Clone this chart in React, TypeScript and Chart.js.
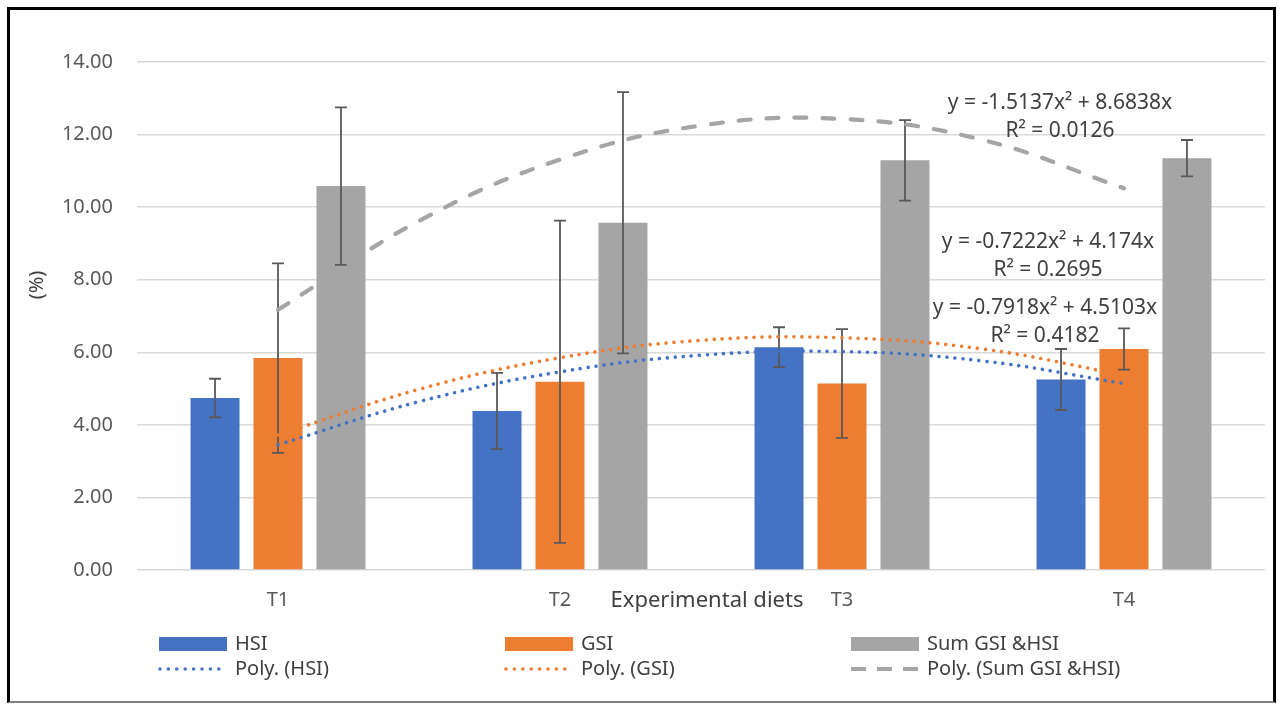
import React, { useEffect, useRef } from "react";
import { Chart, registerables } from "chart.js";

Chart.register(...registerables);

// ---------- data ----------
const categories = ["T1", "T2", "T3", "T4"];
const seriesNames = ["HSI", "GSI", "Sum GSI &HSI"];
const trendNames = ["Poly. (HSI)", "Poly. (GSI)", "Poly. (Sum GSI &HSI)"];

const hsiValues = [4.74, 4.38, 6.14, 5.25];
const gsiValues = [5.84, 5.19, 5.14, 6.09];
const sumValues = [10.58, 9.57, 11.29, 11.35];

const hsiErrors = [0.53, 1.05, 0.55, 0.84];
const gsiErrors = [2.61, 4.44, 1.5, 0.57];
const sumErrors = [2.17, 3.6, 1.11, 0.5];

// trendline points (x = category number 1..4)
const trendX = [1, 1.5, 2, 2.5, 3, 3.5, 4];
const hsiTrend = [3.45, 4.64, 5.46, 5.92, 6.02, 5.76, 5.14];
const gsiTrend = [3.72, 4.98, 5.85, 6.33, 6.4, 6.09, 5.37];
const sumTrend = [7.17, 9.62, 11.31, 12.25, 12.43, 11.85, 10.52];

const hsiEquation = ["y = -0.7222x² + 4.174x", "R² = 0.2695"];
const gsiEquation = ["y = -0.7918x² + 4.5103x", "R² = 0.4182"];
const sumEquation = ["y = -1.5137x² + 8.6838x", "R² = 0.0126"];

const yMin = 0;
const yMax = 14;
const yStep = 2;
const xAxisTitle = "Experimental diets";
const yAxisTitle = "(%)";

// ---------- styles ----------
const FONT = "'Noto Sans', sans-serif";
const colors = ["#4472C4", "#ED7D31", "#A5A5A5"];
const textDark = "#404040";
const tickColor = "#595959";
const errColor = "#595959";

const W = 1278;
const H = 704;
const PAD = { left: 137, right: 13, top: 62, bottom: 134 };

function toPoints(xs: number[], ys: number[]) {
  return xs.map((x, i) => ({ x, y: ys[i] }));
}

const errorBarPlugin = {
  id: "errorBars",
  afterDatasetsDraw(chart: any) {
    const ctx = chart.ctx;
    const yScale = chart.scales.y;
    const errs = [hsiErrors, gsiErrors, sumErrors];
    const vals = [hsiValues, gsiValues, sumValues];
    ctx.save();
    ctx.strokeStyle = errColor;
    ctx.lineWidth = 1.8;
    for (let d = 0; d < 3; d++) {
      const meta = chart.getDatasetMeta(d);
      meta.data.forEach((el: any, j: number) => {
        const x = el.x;
        const top = yScale.getPixelForValue(vals[d][j] + errs[d][j]);
        const bot = yScale.getPixelForValue(vals[d][j] - errs[d][j]);
        ctx.beginPath();
        ctx.moveTo(x, top);
        ctx.lineTo(x, bot);
        ctx.moveTo(x - 6, top);
        ctx.lineTo(x + 6, top);
        ctx.moveTo(x - 6, bot);
        ctx.lineTo(x + 6, bot);
        ctx.stroke();
      });
    }
    ctx.restore();
  },
};

const annotationPlugin = {
  id: "annotations",
  afterDraw(chart: any) {
    const ctx = chart.ctx;
    ctx.save();
    ctx.fillStyle = textDark;
    ctx.textAlign = "center";
    ctx.textBaseline = "middle";

    // equations
    ctx.font = `21px ${FONT}`;
    const eqs: [string[], number, number][] = [
      [sumEquation, 1060, 103],
      [hsiEquation, 1048, 242],
      [gsiEquation, 1045, 308],
    ];
    eqs.forEach(([lines, x, y]) => {
      ctx.fillText(lines[0], x, y);
      ctx.fillText(lines[1], x, y + 28);
    });

    // axis titles
    ctx.font = `22px ${FONT}`;
    ctx.fillText(xAxisTitle, 707, 601);
    ctx.font = `20px ${FONT}`;
    ctx.save();
    ctx.translate(37, 285);
    ctx.rotate(-Math.PI / 2);
    ctx.fillText(yAxisTitle, 0, 0);
    ctx.restore();

    // legend
    const colX = [159, 505, 851];
    const row1 = 644;
    const row2 = 669;
    ctx.textAlign = "left";
    ctx.font = `20px ${FONT}`;
    for (let i = 0; i < 3; i++) {
      ctx.fillStyle = colors[i];
      ctx.fillRect(colX[i], row1 - 7, 68, 14);
      ctx.fillStyle = textDark;
      ctx.fillText(seriesNames[i], colX[i] + 76, row1);

      ctx.save();
      ctx.strokeStyle = colors[i];
      if (i < 2) {
        ctx.lineWidth = 3.6;
        ctx.lineCap = "round";
        ctx.setLineDash([0.001, 8.4]);
        ctx.beginPath();
        ctx.moveTo(colX[i] + 1, row2);
        ctx.lineTo(colX[i] + 68, row2);
        ctx.stroke();
      } else {
        ctx.lineWidth = 4;
        ctx.lineCap = "butt";
        ctx.setLineDash([15, 11]);
        ctx.beginPath();
        ctx.moveTo(colX[i], row2);
        ctx.lineTo(colX[i] + 68, row2);
        ctx.stroke();
      }
      ctx.restore();
      ctx.fillStyle = textDark;
      ctx.fillText(trendNames[i], colX[i] + 76, row2);
    }
    ctx.restore();
  },
};

function trendDataset(label: string, ys: number[], color: string, dashed: boolean) {
  return {
    type: "line",
    label,
    data: toPoints(trendX, ys),
    borderColor: color,
    borderWidth: dashed ? 4.2 : 3.6,
    borderDash: dashed ? [12, 16] : [0.001, 8],
    borderCapStyle: "round",
    pointRadius: 0,
    fill: false,
    tension: 0.4,
  };
}

export default function App() {
  const barRef = useRef<HTMLCanvasElement | null>(null);
  const lineRef = useRef<HTMLCanvasElement | null>(null);

  useEffect(() => {
    if (!barRef.current || !lineRef.current) return;
    const barChart = new Chart(barRef.current, {
      type: "bar",
      data: {
        labels: categories,
        datasets: [
          { label: seriesNames[0], data: hsiValues, backgroundColor: colors[0] },
          { label: seriesNames[1], data: gsiValues, backgroundColor: colors[1] },
          { label: seriesNames[2], data: sumValues, backgroundColor: colors[2] },
        ],
      },
      options: {
        responsive: false,
        animation: false,
        devicePixelRatio: 1,
        layout: { padding: { top: PAD.top, right: PAD.right, left: 0, bottom: 0 } },
        datasets: { bar: { categoryPercentage: 0.67, barPercentage: 0.778 } },
        plugins: {
          legend: { display: false },
          tooltip: { enabled: false },
          title: { display: false },
        },
        scales: {
          x: {
            type: "category",
            offset: true,
            grid: { display: false, drawTicks: false },
            border: { display: false },
            ticks: {
              color: tickColor,
              font: { family: FONT, size: 20 },
              padding: 18,
              maxRotation: 0,
            },
            afterFit(scale: any) {
              scale.height = PAD.bottom;
            },
          },
          y: {
            type: "linear",
            min: yMin,
            max: yMax,
            ticks: {
              stepSize: yStep,
              color: tickColor,
              font: { family: FONT, size: 20 },
              padding: 24,
              callback: (v: any) => Number(v).toFixed(2),
            },
            grid: { color: "#D9D9D9", lineWidth: 1.5, drawTicks: false },
            border: { display: false },
            afterFit(scale: any) {
              scale.width = PAD.left;
            },
          },
        },
      } as any,
      plugins: [errorBarPlugin, annotationPlugin],
    });

    const lineChart = new Chart(lineRef.current, {
      type: "line",
      data: {
        datasets: [
          trendDataset(trendNames[0], hsiTrend, colors[0], false),
          trendDataset(trendNames[1], gsiTrend, colors[1], false),
          trendDataset(trendNames[2], sumTrend, colors[2], true),
        ] as any,
      },
      options: {
        responsive: false,
        animation: false,
        devicePixelRatio: 1,
        layout: { padding: PAD },
        plugins: {
          legend: { display: false },
          tooltip: { enabled: false },
          title: { display: false },
        },
        scales: {
          x: { type: "linear", display: false, min: 0.5, max: 4.5 },
          y: { type: "linear", display: false, min: yMin, max: yMax },
        },
      } as any,
    });

    return () => {
      barChart.destroy();
      lineChart.destroy();
    };
  }, []);

  const canvasStyle: React.CSSProperties = {
    position: "absolute",
    left: 0,
    top: 0,
    display: "block",
    width: W,
    height: H,
  };

  return (
    <div style={{ position: "fixed", left: 0, top: 0, width: W, height: H, background: "#fff" }}>
      <canvas ref={barRef} width={W} height={H} style={canvasStyle} />
      <canvas ref={lineRef} width={W} height={H} style={{ ...canvasStyle, pointerEvents: "none" }} />
      <div
        style={{
          position: "absolute",
          left: 7,
          top: 7,
          width: 1269,
          height: 696,
          boxSizing: "border-box",
          borderTop: "3px solid #000",
          borderLeft: "3px solid #000",
          borderRight: "3px solid #000",
          borderBottom: "2px solid #7f7f7f",
          pointerEvents: "none",
        }}
      />
    </div>
  );
}
